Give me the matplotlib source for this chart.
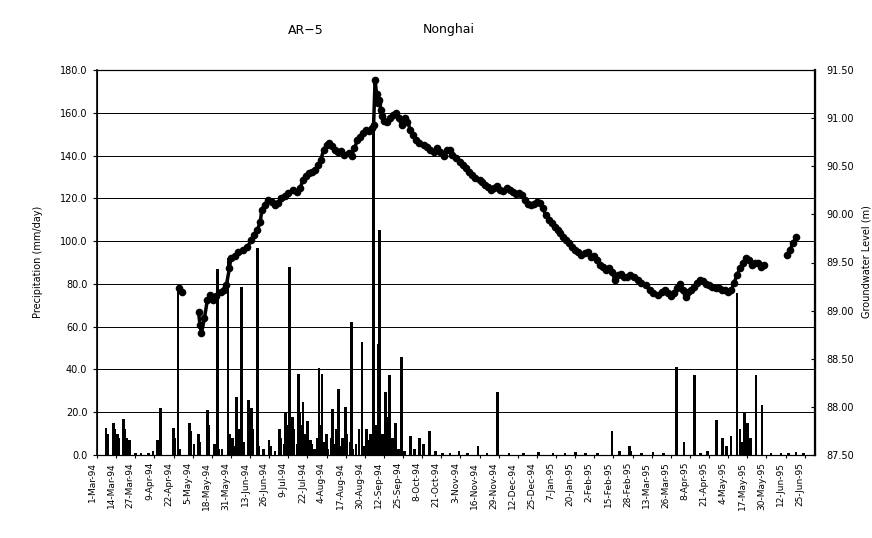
import numpy as np
import pandas as pd
import matplotlib
matplotlib.use('Agg')
import matplotlib.pyplot as plt
from matplotlib.ticker import FormatStrFormatter
from matplotlib.transforms import ScaledTranslation

plt.rcParams['font.family'] = ['DejaVu Sans']

START = pd.Timestamp('1994-03-01')

tick_labels = ['1-Mar-94', '14-Mar-94', '27-Mar-94', '9-Apr-94', '22-Apr-94', '5-May-94',
               '18-May-94', '31-May-94', '13-Jun-94', '26-Jun-94', '9-Jul-94', '22-Jul-94',
               '4-Aug-94', '17-Aug-94', '30-Aug-94', '12-Sep-94', '25-Sep-94', '8-Oct-94',
               '21-Oct-94', '3-Nov-94', '16-Nov-94', '29-Nov-94', '12-Dec-94', '25-Dec-94',
               '7-Jan-95', '20-Jan-95', '2-Feb-95', '15-Feb-95', '28-Feb-95', '13-Mar-95',
               '26-Mar-95', '8-Apr-95', '21-Apr-95', '4-May-95', '17-May-95', '30-May-95',
               '12-Jun-95', '25-Jun-95']

# daily rainfall, day number counted from 1-Mar-94
rain_day = [6, 7, 11, 12, 14, 15, 18, 19, 20, 22, 26, 30, 35, 38, 41, 42, 43, 52, 53, 55,
            56, 63, 64, 66, 69, 70, 75, 76, 80, 82, 83, 85, 89, 90, 92, 93, 95, 96, 98, 100,
            103, 104, 105, 106, 109, 110, 113, 117, 118, 121, 124, 125, 127, 128, 129, 131,
            132, 133, 134, 136, 137, 138, 139, 140, 141, 142, 143, 145, 146, 148, 150, 151,
            152, 153, 154, 156, 157, 159, 160, 161, 163, 164, 165, 167, 169, 170, 172, 173,
            174, 176, 178, 180, 181, 183, 184, 186, 188, 189, 190, 191, 192, 194, 196, 197,
            198, 199, 200, 201, 203, 205, 207, 209, 213, 216, 219, 222, 226, 230, 235, 240,
            246, 252, 259, 265, 272, 280, 290, 300, 310, 318, 325, 332, 340, 350, 355, 362,
            363, 370, 378, 385, 394, 399, 406, 410, 415, 421, 425, 428, 431, 435, 437, 438,
            440, 442, 444, 448, 452, 458, 465, 470, 475, 480]
rain_mm = [12.6, 10, 15, 12, 10, 8, 17, 12, 8, 7, 1, 1, 1, 2, 7, 3, 22, 12.6, 8, 78.6,
           3, 15, 11, 5, 10, 6, 21, 14, 5, 87, 3, 3, 92, 10, 8, 4, 27, 12, 78.6, 6,
           25.7, 18, 22, 12, 97, 4, 3, 7, 4, 2, 12, 8, 5, 20, 14, 88,
           8, 18, 12, 5, 38, 20, 14, 25, 10, 6, 16, 7, 5, 3, 8, 40.7,
           14, 38, 6, 10, 3, 8, 21.5, 5, 12, 31, 4, 8, 22.5, 10, 6, 62,
           3, 5, 12, 53, 4, 12, 7, 10, 152, 6, 14, 52, 105, 10, 29.5, 18,
           12, 37.4, 5, 8, 15, 3, 46, 2, 9, 3, 8, 5, 11, 2, 1, 1,
           2, 1, 4, 1, 29.5, 1, 1, 1.5, 1, 1, 1.5, 1, 1, 11, 2, 4,
           2, 1, 1.5, 1, 41, 6, 37.4, 1, 2, 16.4, 8, 4, 9, 75.7, 12, 6,
           20, 15, 8, 37.4, 23.4, 1, 1, 1, 1.5, 1]

nan = float('nan')
# groundwater level (m), same day numbering; nan marks gaps in the record
gw_day = [56, 58, 63,
          69, 70, 71, 73, 75, 77, 79, 81, 84, 86, 88, 90, 91, 94, 96, 99, 102, 105, 107,
          109, 111, 112, 114, 116, 119, 121, 123, 125, 128, 130, 133, 136, 138, 140, 142,
          144, 146, 148, 150, 152, 154, 156, 158, 160, 162, 164, 166, 168, 171, 173, 175,
          177, 179, 181, 183, 185, 187, 188, 189, 190, 191, 192, 193, 194, 195, 197, 199,
          201, 203, 205, 207, 209, 211, 213, 215, 217, 219, 222, 224, 226, 229, 231, 233,
          236, 238, 240, 241, 244, 247, 249, 251, 253, 255, 257, 260, 262, 264, 266, 268,
          270, 272, 274, 276, 279, 281, 283, 285, 287, 289, 291, 293, 295, 297, 299, 301,
          303, 305, 307, 309, 311, 313, 315, 317, 319, 321, 323, 325, 327, 329, 332, 334,
          336, 338, 340, 342, 344, 346, 348, 350, 352, 354, 356, 358, 360, 362, 365, 368,
          370, 373, 376, 378, 381, 384, 386, 388, 390, 392, 394, 396, 398, 400, 402, 404,
          406, 408, 410, 412, 414, 416, 418, 421, 423, 425, 427, 429, 431, 433, 435, 437,
          439, 441, 443, 445, 447, 449, 451, 453, 460,
          469, 471, 473, 475]
gw_level = [89.24, 89.19, nan,
            88.99, 88.85, 88.77, 88.92, 89.11, 89.16, 89.11, 89.15, 89.19, 89.21, 89.27, 89.44,
            89.55, 89.57, 89.61, 89.63, 89.66, 89.73, 89.79,
            89.84, 89.92, 90.05, 90.10, 90.15, 90.13, 90.10, 90.12, 90.17, 90.19, 90.22, 90.25,
            90.23, 90.27, 90.36, 90.40,
            90.43, 90.44, 90.46, 90.51, 90.56, 90.67, 90.72, 90.74, 90.71, 90.67, 90.65, 90.66,
            90.62, 90.64, 90.61, 90.69,
            90.77, 90.80, 90.85, 90.88, 90.87, 90.90, 90.93, 91.40, 91.25, 91.16, 91.19, 91.08,
            91.02, 90.97, 90.96, 91.00,
            91.03, 91.05, 91.00, 90.93, 91.00, 90.96, 90.88, 90.82, 90.77, 90.74, 90.72, 90.70,
            90.67, 90.65, 90.69, 90.65,
            90.61, 90.67, 90.67, 90.62, 90.59, 90.54, 90.51, 90.48, 90.44, 90.41, 90.38, 90.36,
            90.34, 90.31, 90.28, 90.25,
            90.27, 90.29, 90.25, 90.24, 90.27, 90.25, 90.23, 90.21, 90.22, 90.20, 90.15, 90.11,
            90.10, 90.11, 90.13, 90.12,
            90.07, 89.99, 89.94, 89.91, 89.87, 89.84, 89.81, 89.77, 89.73, 89.70, 89.66, 89.63,
            89.61, 89.58, 89.60, 89.61,
            89.56, 89.57, 89.53, 89.47, 89.45, 89.42, 89.44, 89.40, 89.32, 89.37, 89.38, 89.35,
            89.35, 89.37, 89.35, 89.32,
            89.29, 89.27, 89.21, 89.18, 89.16, 89.19, 89.21, 89.18, 89.15, 89.18, 89.24, 89.28,
            89.21, 89.14, 89.19, 89.21,
            89.25, 89.29, 89.32, 89.31, 89.28, 89.27, 89.25, 89.24, 89.23, 89.21, 89.21, 89.19,
            89.21, 89.29, 89.37, 89.44,
            89.49, 89.55, 89.53, 89.47, 89.50, 89.49, 89.45, 89.47, nan,
            89.58, 89.63, 89.70, 89.76]

rain_dates = (START + pd.to_timedelta(rain_day, unit='D')).to_pydatetime()
gw_dates = (START + pd.to_timedelta(gw_day, unit='D')).to_pydatetime()
tick_dates = pd.to_datetime(tick_labels, format='%d-%b-%y').to_pydatetime()

W, H = 872, 538
fig = plt.figure(figsize=(W / 100, H / 100), dpi=100)
ax = fig.add_axes([97 / W, 1 - 455 / H, (815 - 97) / W, (455 - 70) / H])

ax.bar(rain_dates, rain_mm, width=1.8, color='black', zorder=2)
ax.set_ylim(0, 180)
ax.set_yticks(np.arange(0, 181, 20))
ax.yaxis.set_major_formatter(FormatStrFormatter('%.1f'))
ax.grid(axis='y', color='black', lw=0.7)
ax.set_axisbelow(True)
ax.set_xlim(START.to_pydatetime(), (START + pd.Timedelta(days=488)).to_pydatetime())
ax.set_xticks(tick_dates)
ax.set_xticklabels(tick_labels, rotation=90, fontsize=6.5)
ax.tick_params(axis='x', length=2, pad=3)
ax.tick_params(axis='y', length=3, labelsize=7, pad=4)
shift = ScaledTranslation(-5 / 100, 0, fig.dpi_scale_trans)
for lbl in ax.get_xticklabels():
    lbl.set_transform(lbl.get_transform() + shift)

ax2 = ax.twinx()
ax2.plot(gw_dates, gw_level, color='black', lw=2.5, marker='o', ms=5.5, mew=0, zorder=3)
ax2.set_ylim(87.5, 91.5)
ax2.set_yticks(np.arange(87.5, 91.51, 0.5))
ax2.yaxis.set_major_formatter(FormatStrFormatter('%.2f'))
ax2.tick_params(axis='y', direction='in', length=3, labelsize=7, pad=8)

for a in (ax, ax2):
    for s in a.spines.values():
        s.set_color('black')
        s.set_linewidth(0.8)
ax2.spines['right'].set_linewidth(1.6)
ax.spines['left'].set_linewidth(1.2)

fig.text(38 / W, 1 - 262 / H, 'Precipitation (mm/day)', rotation=90,
         ha='center', va='center', fontsize=7)
fig.text(866 / W, 1 - 262 / H, 'Groundwater Level (m)', rotation=90,
         ha='center', va='center', fontsize=7)
fig.text(306 / W, 1 - 30 / H, 'AR\u22125', ha='center', va='center', fontsize=9)
fig.text(449 / W, 1 - 30 / H, 'Nonghai', ha='center', va='center', fontsize=9)

fig.savefig('out.png', dpi=100)
